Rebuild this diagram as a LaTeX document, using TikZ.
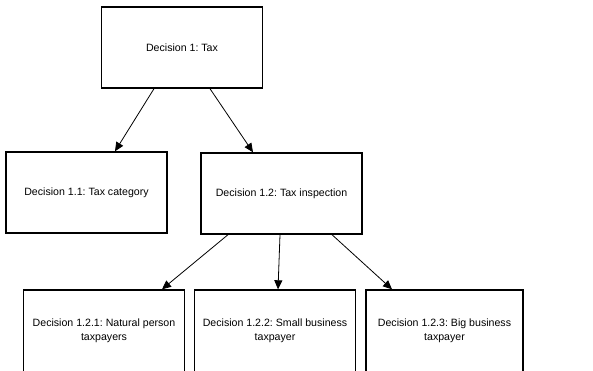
\documentclass[tikz,border=0pt]{standalone}
\usepackage{fontspec}
\setmainfont{Liberation Sans}
\usetikzlibrary{arrows.meta}
\frenchspacing
\begin{document}
\begin{tikzpicture}[x=1pt,y=1pt,
  box/.style={draw=black, line width=1.4pt, fill=white, minimum width=161pt, minimum height=81pt,
    inner sep=0pt, align=center, font=\fontsize{10.6}{14}\selectfont},
  arr/.style={draw=black, line width=0.8pt, -{Triangle[length=9pt,width=8pt]}}]
\useasboundingbox (0,0) rectangle (593,-371);
\clip (0,0) rectangle (593,-371);
\fill[white] (0,0) rectangle (593,-371);
\node[box] (top) at (182,-47.5) {Decision 1: Tax};
\node[box] (c11) at (86.5,-192.5) {Decision 1.1: Tax category};
\node[box] (c12) at (281.5,-193.5) {Decision 1.2: Tax inspection};
\node[box, minimum height=82pt] (c121) at (104,-331) {Decision 1.2.1: Natural person\\taxpayers};
\node[box, minimum height=82pt] (c122) at (275,-331) {Decision 1.2.2: Small business\\taxpayer};
\node[box, minimum height=82pt, minimum width=157pt] (c123) at (444.5,-331) {Decision 1.2.3: Big business\\taxpayer};
\draw[arr] ([xshift=-28pt]top.south) -- ([xshift=28.5pt]c11.north);
\draw[arr] ([xshift=28pt]top.south) -- ([xshift=-28.5pt]c12.north);
\draw[arr] ([xshift=-53.5pt]c12.south) -- ([xshift=58pt]c121.north);
\draw[arr] ([xshift=-1.5pt]c12.south) -- ([xshift=3pt]c122.north);
\draw[arr] ([xshift=50.5pt]c12.south) -- ([xshift=-52.5pt]c123.north);
\end{tikzpicture}
\end{document}
